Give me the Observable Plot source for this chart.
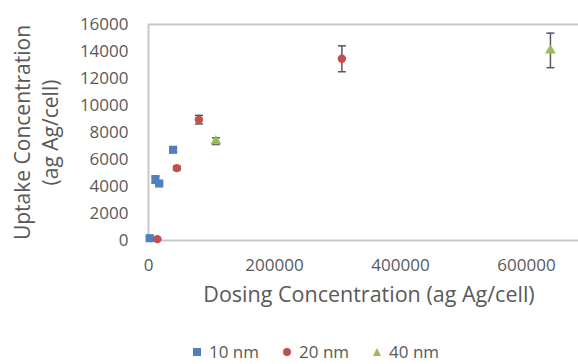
<!DOCTYPE html>
<html>
<head>
<meta charset="utf-8">
<script src="https://cdn.jsdelivr.net/npm/d3@7"></script>
<script src="https://cdn.jsdelivr.net/npm/@observablehq/plot@0.6"></script>
<style>
  html, body { margin: 0; padding: 0; background: #fff; overflow: hidden; width: 578px; height: 364px; }
  #chart { width: 578px; overflow: hidden; }
  #chart svg { max-width: none !important; }
  #legend { display: flex; align-items: center; padding-left: 193px; height: 24px; line-height: 24px;
            font-family: "Open Sans", sans-serif; font-size: 17px; color: #595959; }
  .item { display: flex; align-items: center; margin-right: 24px; }
  .item svg { margin-right: 8px; }
</style>
</head>
<body>
<div id="chart"></div>
<div id="legend"></div>
<script>
// Data
const seriesNames = ["10 nm", "20 nm", "40 nm"];
const colors = ["#4F81BD", "#C0504D", "#9BBB59"];

const dose10 = [2000, 11000, 17000, 39000];
const uptake10 = [170, 4520, 4220, 6720];
const err10 = [60, 260, 100, 100];

const dose20 = [14000, 45000, 80000, 307000];
const uptake20 = [100, 5360, 8950, 13460];
const err20 = [50, 150, 320, 960];

const dose40 = [107000, 638000];
const uptake40 = [7360, 14080];
const err40 = [250, 1280];

const xTicks = [0, 200000, 400000, 600000];
const yTicks = [0, 2000, 4000, 6000, 8000, 10000, 12000, 14000, 16000];

const rows = (name, xs, ys, es) => xs.map((x, i) => ({series: name, x, y: ys[i], e: es[i]}));
const d10 = rows("10 nm", dose10, uptake10, err10);
const d20 = rows("20 nm", dose20, uptake20, err20);
const d40 = rows("40 nm", dose40, uptake40, err40);

const hline = {draw(ctx, size) { const r = Math.sqrt(size / Math.PI); ctx.moveTo(-r, 0); ctx.lineTo(r, 0); }};
const symbols = {"10 nm": "square", "20 nm": "circle", "40 nm": "triangle"};
const sizes = {"10 nm": 4.6, "20 nm": 4.2, "40 nm": 4.0};
const errColor = "#595959";

function seriesMarks(data, i) {
  const name = seriesNames[i];
  const errs = data.filter(d => d.e > 0);
  return [
    Plot.ruleX(errs, {x: "x", y1: d => d.y - d.e, y2: d => d.y + d.e, stroke: errColor, strokeWidth: 1.5}),
    Plot.dot(errs, {x: "x", y: d => d.y + d.e, symbol: hline, r: 4, stroke: errColor, strokeWidth: 1.5}),
    Plot.dot(errs, {x: "x", y: d => d.y - d.e, symbol: hline, r: 4, stroke: errColor, strokeWidth: 1.5}),
    Plot.dot(data, {x: "x", y: "y", symbol: symbols[name], r: sizes[name], fill: colors[i], stroke: "none"})
  ];
}

const plot = Plot.plot({
  width: 590,
  height: 340,
  marginLeft: 148,
  marginRight: 1,
  marginTop: 24,
  marginBottom: 100,
  style: {fontFamily: "'Open Sans', sans-serif", fontSize: "17px", color: "#595959", background: "#fff", overflow: "visible"},
  x: {domain: [0, 700000], ticks: xTicks, tickSize: 0, tickPadding: 18, tickFormat: d => String(d), label: null},
  y: {domain: [0, 16000], ticks: yTicks, tickSize: 0, tickPadding: 20, tickFormat: d => String(d), label: null},
  marks: [
    Plot.frame({stroke: "#c8c8c8", strokeWidth: 2}),
    Plot.text(["Uptake Concentration\n(ag Ag/cell)"], {frameAnchor: "left", dx: -113, rotate: -90,
      textAnchor: "middle", text: d => d, fontSize: 21, fill: "#595959", lineHeight: 1.33}),
    Plot.text(["Dosing Concentration (ag Ag/cell)"], {frameAnchor: "bottom", dy: 61,
      textAnchor: "middle", text: d => d, fontSize: 21.5, fill: "#595959"}),
    ...seriesMarks(d10, 0),
    ...seriesMarks(d20, 1),
    ...seriesMarks(d40, 2)
  ]
});
document.getElementById("chart").appendChild(plot);

// Legend
const legend = document.getElementById("legend");
const legendShapes = {
  "10 nm": '<rect x="0" y="0" width="8" height="8" fill="' + colors[0] + '"/>',
  "20 nm": '<circle cx="4" cy="4" r="4" fill="' + colors[1] + '"/>',
  "40 nm": '<path d="M4 0 L8 8 L0 8 Z" fill="' + colors[2] + '"/>'
};
seriesNames.forEach(name => {
  const el = document.createElement("div");
  el.className = "item";
  el.innerHTML = '<svg width="8" height="8">' + legendShapes[name] + '</svg><span>' + name + '</span>';
  legend.appendChild(el);
});
</script>
</body>
</html>
